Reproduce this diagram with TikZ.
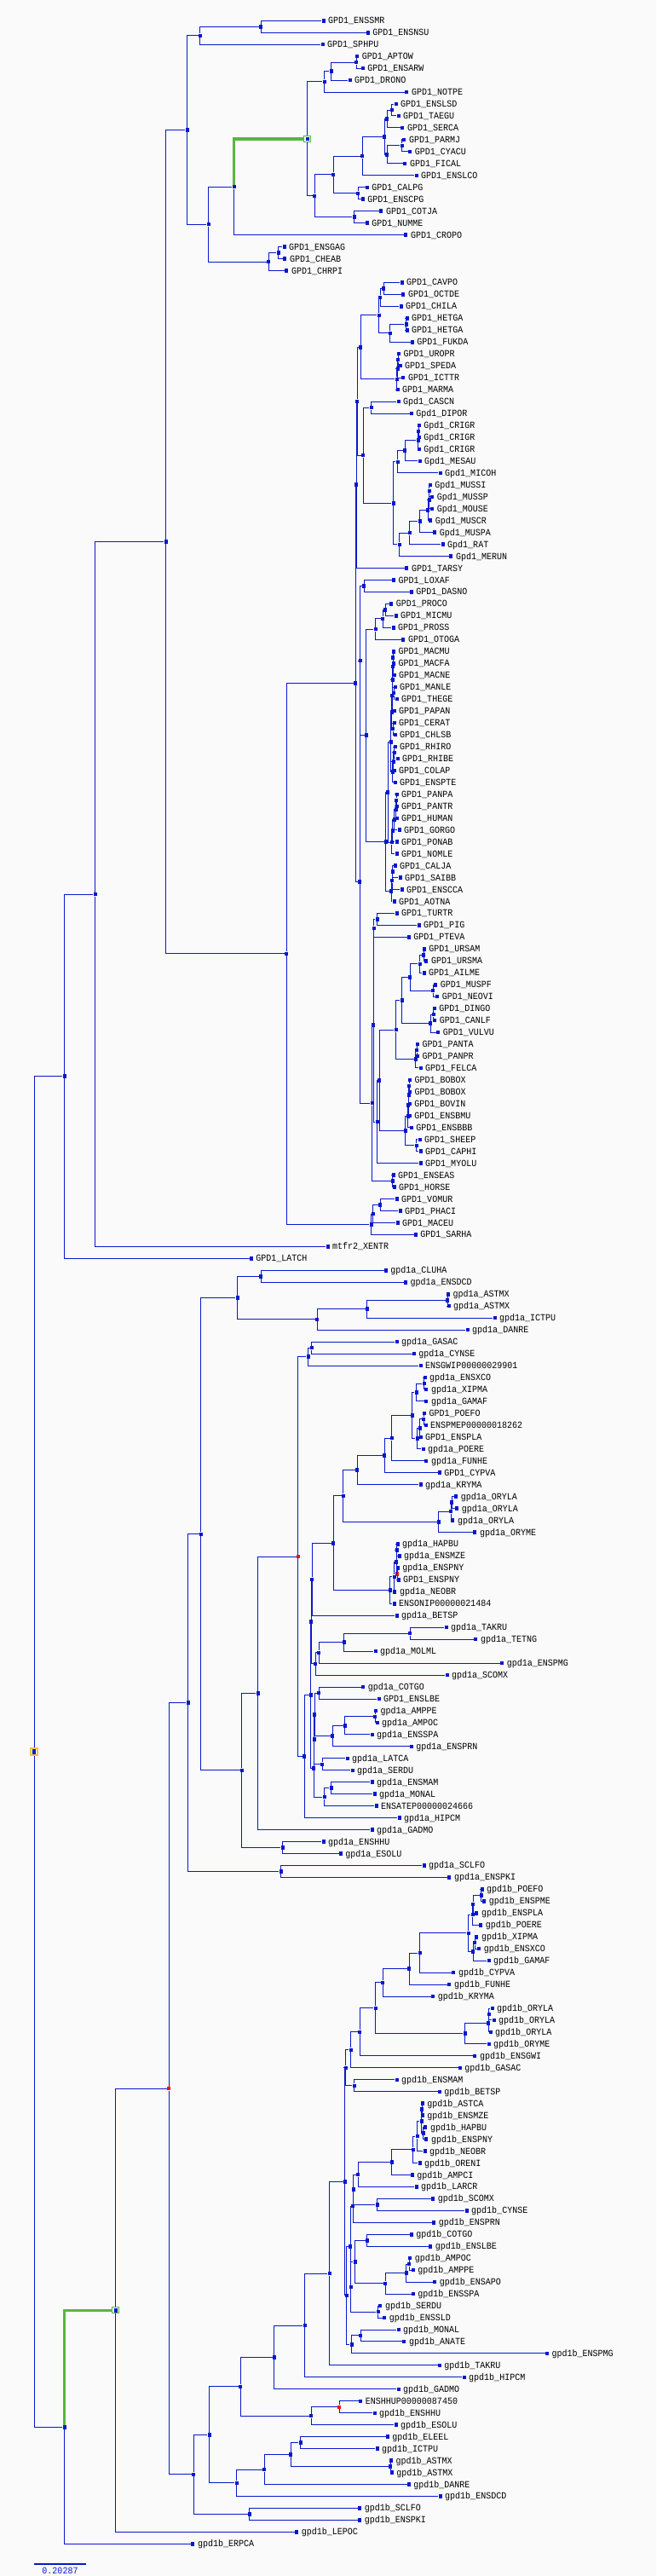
\documentclass[tikz,border=0pt]{standalone}
\usepackage{fontspec}
\usepackage{tikz}
\newfontfamily\treefont[FakeStretch=0.91]{Liberation Mono}
\newcommand{\leaffont}{\treefont\fontsize{11}{12}\selectfont}
\definecolor{treeblue}{RGB}{8,24,204}
\definecolor{treegreen}{RGB}{88,182,64}
\definecolor{treered}{RGB}{250,10,10}
\definecolor{treeyellow}{RGB}{236,196,64}
\definecolor{bgcolor}{RGB}{250,250,250}

\begin{document}
\begin{tikzpicture}[x=1pt, y=-13.962pt,
    LeafStyle/.style={rectangle, fill=treeblue, inner sep=0pt, minimum width=4pt, minimum height=4.5pt},
    NodeStyle/.style={LeafStyle},
    RedStyle/.style={LeafStyle, fill=treered},
    SelStyle/.style={LeafStyle, fill=bgcolor, draw=treegreen, line width=.8pt, minimum width=8.5pt, minimum height=7pt,
        path picture={\fill[treeblue] ([xshift=-2pt,yshift=-2.25pt]path picture bounding box.center) rectangle ([xshift=2pt,yshift=2.25pt]path picture bounding box.center);}},
    RootStyle/.style={LeafStyle, fill=bgcolor, draw=treeyellow, line width=1.8pt, minimum width=8pt, minimum height=8.5pt,
        path picture={\fill[treeblue] ([xshift=-2pt,yshift=-3pt]path picture bounding box.center) rectangle ([xshift=2pt,yshift=3pt]path picture bounding box.center);}},
    every label/.style={inner sep=0pt, font=\leaffont, text height=7pt, text depth=0pt},
    label distance=3.2pt,
    every edge/.style={draw=treeblue, line width=1pt, to path={(\tikztostart) |- (\tikztotarget)}},
    HiStyle/.style={draw=treegreen, line width=3.5pt}]

\path[fill=bgcolor, use as bounding box] (0,-0.7405) rectangle (770,215.70);

% leaves
\node[LeafStyle,label=right:GPD1\_ENSSMR] (L1) at (379.6,1) {};
\node[LeafStyle,label=right:GPD1\_ENSNSU] (L2) at (431.7,2) {};
\node[LeafStyle,label=right:GPD1\_SPHPU] (L3) at (378.6,3) {};
\node[LeafStyle,label=right:GPD1\_APTOW] (L4) at (419.2,4) {};
\node[LeafStyle,label=right:GPD1\_ENSARW] (L5) at (425.8,5) {};
\node[LeafStyle,label=right:GPD1\_DRONO] (L6) at (410.6,6) {};
\node[LeafStyle,label=right:GPD1\_NOTPE] (L7) at (477.4,7) {};
\node[LeafStyle,label=right:GPD1\_ENSLSD] (L8) at (464.6,8) {};
\node[LeafStyle,label=right:GPD1\_TAEGU] (L9) at (467.5,9) {};
\node[LeafStyle,label=right:GPD1\_SERCA] (L10) at (472.4,10) {};
\node[LeafStyle,label=right:GPD1\_PARMJ] (L11) at (474.4,11) {};
\node[LeafStyle,label=right:GPD1\_CYACU] (L12) at (481.3,12) {};
\node[LeafStyle,label=right:GPD1\_FICAL] (L13) at (475.4,13) {};
\node[LeafStyle,label=right:GPD1\_ENSLCO] (L14) at (488.6,14) {};
\node[LeafStyle,label=right:GPD1\_CALPG] (L15) at (430.7,15) {};
\node[LeafStyle,label=right:GPD1\_ENSCPG] (L16) at (425.8,16) {};
\node[LeafStyle,label=right:GPD1\_COTJA] (L17) at (447.4,17) {};
\node[LeafStyle,label=right:GPD1\_NUMME] (L18) at (430.7,18) {};
\node[LeafStyle,label=right:GPD1\_CROPO] (L19) at (476.4,19) {};
\node[LeafStyle,label=right:GPD1\_ENSGAG] (L20) at (333.5,20) {};
\node[LeafStyle,label=right:GPD1\_CHEAB] (L21) at (334.4,21) {};
\node[LeafStyle,label=right:GPD1\_CHRPI] (L22) at (336.4,22) {};
\node[LeafStyle,label=right:GPD1\_CAVPO] (L23) at (471.5,23) {};
\node[LeafStyle,label=right:GPD1\_OCTDE] (L24) at (473.4,24) {};
\node[LeafStyle,label=right:GPD1\_CHILA] (L25) at (470.5,25) {};
\node[LeafStyle,label=right:GPD1\_HETGA] (L26) at (477.6,26) {};
\node[LeafStyle,label=right:GPD1\_HETGA] (L27) at (477.6,27) {};
\node[LeafStyle,label=right:GPD1\_FUKDA] (L28) at (483.7,28) {};
\node[LeafStyle,label=right:GPD1\_UROPR] (L29) at (468.0,29) {};
\node[LeafStyle,label=right:GPD1\_SPEDA] (L30) at (469.5,30) {};
\node[LeafStyle,label=right:GPD1\_ICTTR] (L31) at (473.4,31) {};
\node[LeafStyle,label=right:GPD1\_MARMA] (L32) at (466.5,32) {};
\node[LeafStyle,label=right:Gpd1\_CASCN] (L33) at (467.5,33) {};
\node[LeafStyle,label=right:Gpd1\_DIPOR] (L34) at (482.8,34) {};
\node[LeafStyle,label=right:Gpd1\_CRIGR] (L35) at (491.8,35) {};
\node[LeafStyle,label=right:Gpd1\_CRIGR] (L36) at (491.8,36) {};
\node[LeafStyle,label=right:Gpd1\_CRIGR] (L37) at (491.8,37) {};
\node[LeafStyle,label=right:Gpd1\_MESAU] (L38) at (492.6,38) {};
\node[LeafStyle,label=right:Gpd1\_MICOH] (L39) at (516.6,39) {};
\node[LeafStyle,label=right:Gpd1\_MUSSI] (L40) at (504.7,40) {};
\node[LeafStyle,label=right:Gpd1\_MUSSP] (L41) at (507.3,41) {};
\node[LeafStyle,label=right:Gpd1\_MOUSE] (L42) at (507.3,42) {};
\node[LeafStyle,label=right:Gpd1\_MUSCR] (L43) at (505.3,43) {};
\node[LeafStyle,label=right:Gpd1\_MUSPA] (L44) at (510.3,44) {};
\node[LeafStyle,label=right:Gpd1\_RAT] (L45) at (519.6,45) {};
\node[LeafStyle,label=right:Gpd1\_MERUN] (L46) at (529.4,46) {};
\node[LeafStyle,label=right:GPD1\_TARSY] (L47) at (477.4,47) {};
\node[LeafStyle,label=right:GPD1\_LOXAF] (L48) at (462.1,48) {};
\node[LeafStyle,label=right:GPD1\_DASNO] (L49) at (482.8,49) {};
\node[LeafStyle,label=right:GPD1\_PROCO] (L50) at (459.2,50) {};
\node[LeafStyle,label=right:GPD1\_MICMU] (L51) at (464.6,51) {};
\node[LeafStyle,label=right:GPD1\_PROSS] (L52) at (461.6,52) {};
\node[LeafStyle,label=right:GPD1\_OTOGA] (L53) at (473.4,53) {};
\node[LeafStyle,label=right:GPD1\_MACMU] (L54) at (462.0,54) {};
\node[LeafStyle,label=right:GPD1\_MACFA] (L55) at (462.0,55) {};
\node[LeafStyle,label=right:GPD1\_MACNE] (L56) at (462.6,56) {};
\node[LeafStyle,label=right:GPD1\_MANLE] (L57) at (463.6,57) {};
\node[LeafStyle,label=right:GPD1\_THEGE] (L58) at (465.6,58) {};
\node[LeafStyle,label=right:GPD1\_PAPAN] (L59) at (462.6,59) {};
\node[LeafStyle,label=right:GPD1\_CERAT] (L60) at (462.6,60) {};
\node[LeafStyle,label=right:GPD1\_CHLSB] (L61) at (463.6,61) {};
\node[LeafStyle,label=right:GPD1\_RHIRO] (L62) at (463.6,62) {};
\node[LeafStyle,label=right:GPD1\_RHIBE] (L63) at (466.5,63) {};
\node[LeafStyle,label=right:GPD1\_COLAP] (L64) at (462.6,64) {};
\node[LeafStyle,label=right:GPD1\_ENSPTE] (L65) at (463.6,65) {};
\node[LeafStyle,label=right:GPD1\_PANPA] (L66) at (465.6,66) {};
\node[LeafStyle,label=right:GPD1\_PANTR] (L67) at (465.6,67) {};
\node[LeafStyle,label=right:GPD1\_HUMAN] (L68) at (465.6,68) {};
\node[LeafStyle,label=right:GPD1\_GORGO] (L69) at (468.5,69) {};
\node[LeafStyle,label=right:GPD1\_PONAB] (L70) at (465.6,70) {};
\node[LeafStyle,label=right:GPD1\_NOMLE] (L71) at (465.6,71) {};
\node[LeafStyle,label=right:GPD1\_CALJA] (L72) at (463.6,72) {};
\node[LeafStyle,label=right:GPD1\_SAIBB] (L73) at (469.5,73) {};
\node[LeafStyle,label=right:GPD1\_ENSCCA] (L74) at (471.5,74) {};
\node[LeafStyle,label=right:GPD1\_AOTNA] (L75) at (462.6,75) {};
\node[LeafStyle,label=right:GPD1\_TURTR] (L76) at (465.6,76) {};
\node[LeafStyle,label=right:GPD1\_PIG] (L77) at (491.6,77) {};
\node[LeafStyle,label=right:GPD1\_PTEVA] (L78) at (479.8,78) {};
\node[LeafStyle,label=right:GPD1\_URSAM] (L79) at (497.8,79) {};
\node[LeafStyle,label=right:GPD1\_URSMA] (L80) at (500.4,80) {};
\node[LeafStyle,label=right:GPD1\_AILME] (L81) at (497.5,81) {};
\node[LeafStyle,label=right:GPD1\_MUSPF] (L82) at (511.2,82) {};
\node[LeafStyle,label=right:GPD1\_NEOVI] (L83) at (513.2,83) {};
\node[LeafStyle,label=right:GPD1\_DINGO] (L84) at (509.8,84) {};
\node[LeafStyle,label=right:GPD1\_CANLF] (L85) at (510.3,85) {};
\node[LeafStyle,label=right:GPD1\_VULVU] (L86) at (514.2,86) {};
\node[LeafStyle,label=right:GPD1\_PANTA] (L87) at (490.0,87) {};
\node[LeafStyle,label=right:GPD1\_PANPR] (L88) at (490.0,88) {};
\node[LeafStyle,label=right:GPD1\_FELCA] (L89) at (493.6,89) {};
\node[LeafStyle,label=right:GPD1\_BOBOX] (L90) at (480.9,90) {};
\node[LeafStyle,label=right:GPD1\_BOBOX] (L91) at (480.9,91) {};
\node[LeafStyle,label=right:GPD1\_BOVIN] (L92) at (480.8,92) {};
\node[LeafStyle,label=right:GPD1\_ENSBMU] (L93) at (480.8,93) {};
\node[LeafStyle,label=right:GPD1\_ENSBBB] (L94) at (482.8,94) {};
\node[LeafStyle,label=right:GPD1\_SHEEP] (L95) at (492.6,95) {};
\node[LeafStyle,label=right:GPD1\_CAPHI] (L96) at (493.6,96) {};
\node[LeafStyle,label=right:GPD1\_MYOLU] (L97) at (493.6,97) {};
\node[LeafStyle,label=right:GPD1\_ENSEAS] (L98) at (461.6,98) {};
\node[LeafStyle,label=right:GPD1\_HORSE] (L99) at (462.6,99) {};
\node[LeafStyle,label=right:GPD1\_VOMUR] (L100) at (465.6,100) {};
\node[LeafStyle,label=right:GPD1\_PHACI] (L101) at (469.5,101) {};
\node[LeafStyle,label=right:GPD1\_MACEU] (L102) at (466.5,102) {};
\node[LeafStyle,label=right:GPD1\_SARHA] (L103) at (487.7,103) {};
\node[LeafStyle,label=right:mtfr2\_XENTR] (L104) at (384.5,104) {};
\node[LeafStyle,label=right:GPD1\_LATCH] (L105) at (294.7,105) {};
\node[LeafStyle,label=right:gpd1a\_CLUHA] (L106) at (452.8,106) {};
\node[LeafStyle,label=right:gpd1a\_ENSDCD] (L107) at (475.9,107) {};
\node[LeafStyle,label=right:gpd1a\_ASTMX] (L108) at (525.9,108) {};
\node[LeafStyle,label=right:gpd1a\_ASTMX] (L109) at (526.5,109) {};
\node[LeafStyle,label=right:gpd1a\_ICTPU] (L110) at (580.5,110) {};
\node[LeafStyle,label=right:gpd1a\_DANRE] (L111) at (548.6,111) {};
\node[LeafStyle,label=right:gpd1a\_GASAC] (L112) at (465.6,112) {};
\node[LeafStyle,label=right:gpd1a\_CYNSE] (L113) at (485.7,113) {};
\node[LeafStyle,label=right:ENSGWIP00000029901] (L114) at (493.6,114) {};
\node[LeafStyle,label=right:gpd1a\_ENSXCO] (L115) at (498.5,115) {};
\node[LeafStyle,label=right:gpd1a\_XIPMA] (L116) at (500.4,116) {};
\node[LeafStyle,label=right:gpd1a\_GAMAF] (L117) at (500.4,117) {};
\node[LeafStyle,label=right:GPD1\_POEFO] (L118) at (498.0,118) {};
\node[LeafStyle,label=right:ENSPMEP00000018262] (L119) at (499.5,119) {};
\node[LeafStyle,label=right:GPD1\_ENSPLA] (L120) at (493.6,120) {};
\node[LeafStyle,label=right:gpd1a\_POERE] (L121) at (496.5,121) {};
\node[LeafStyle,label=right:gpd1a\_FUNHE] (L122) at (500.4,122) {};
\node[LeafStyle,label=right:GPD1\_CYPVA] (L123) at (515.7,123) {};
\node[LeafStyle,label=right:gpd1a\_KRYMA] (L124) at (493.6,124) {};
\node[LeafStyle,label=right:gpd1a\_ORYLA] (L125) at (535.3,125) {};
\node[LeafStyle,label=right:gpd1a\_ORYLA] (L126) at (536.3,126) {};
\node[LeafStyle,label=right:gpd1a\_ORYLA] (L127) at (531.4,127) {};
\node[LeafStyle,label=right:gpd1a\_ORYME] (L128) at (557.4,128) {};
\node[LeafStyle,label=right:gpd1a\_HAPBU] (L129) at (466.5,129) {};
\node[LeafStyle,label=right:gpd1a\_ENSMZE] (L130) at (468.5,130) {};
\node[LeafStyle,label=right:gpd1a\_ENSPNY] (L131) at (466.8,131) {};
\node[LeafStyle,label=right:GPD1\_ENSPNY] (L132) at (467.5,132) {};
\node[LeafStyle,label=right:gpd1a\_NEOBR] (L133) at (463.4,133) {};
\node[LeafStyle,label=right:ENSONIP00000021484] (L134) at (462.6,134) {};
\node[LeafStyle,label=right:gpd1a\_BETSP] (L135) at (465.6,135) {};
\node[LeafStyle,label=right:gpd1a\_TAKRU] (L136) at (523.5,136) {};
\node[LeafStyle,label=right:gpd1a\_TETNG] (L137) at (558.4,137) {};
\node[LeafStyle,label=right:gpd1a\_MOLML] (L138) at (440.5,138) {};
\node[LeafStyle,label=right:gpd1a\_ENSPMG] (L139) at (589.3,139) {};
\node[LeafStyle,label=right:gpd1a\_SCOMX] (L140) at (524.5,140) {};
\node[LeafStyle,label=right:gpd1a\_COTGO] (L141) at (426.3,141) {};
\node[LeafStyle,label=right:GPD1\_ENSLBE] (L142) at (444.5,142) {};
\node[LeafStyle,label=right:gpd1a\_AMPPE] (L143) at (440.9,143) {};
\node[LeafStyle,label=right:gpd1a\_AMPOC] (L144) at (442.5,144) {};
\node[LeafStyle,label=right:gpd1a\_ENSSPA] (L145) at (436.6,145) {};
\node[LeafStyle,label=right:gpd1a\_ENSPRN] (L146) at (482.8,146) {};
\node[LeafStyle,label=right:gpd1a\_LATCA] (L147) at (407.6,147) {};
\node[LeafStyle,label=right:gpd1a\_SERDU] (L148) at (413.5,148) {};
\node[LeafStyle,label=right:gpd1a\_ENSMAM] (L149) at (436.6,149) {};
\node[LeafStyle,label=right:gpd1a\_MONAL] (L150) at (439.5,150) {};
\node[LeafStyle,label=right:ENSATEP00000024666] (L151) at (441.5,151) {};
\node[LeafStyle,label=right:gpd1a\_HIPCM] (L152) at (468.5,152) {};
\node[LeafStyle,label=right:gpd1a\_GADMO] (L153) at (436.6,153) {};
\node[LeafStyle,label=right:gpd1a\_ENSHHU] (L154) at (379.6,154) {};
\node[LeafStyle,label=right:gpd1a\_ESOLU] (L155) at (399.8,155) {};
\node[LeafStyle,label=right:gpd1a\_SCLFO] (L156) at (497.5,156) {};
\node[LeafStyle,label=right:gpd1a\_ENSPKI] (L157) at (527.4,157) {};
\node[LeafStyle,label=right:gpd1b\_POEFO] (L158) at (565.6,158) {};
\node[LeafStyle,label=right:gpd1b\_ENSPME] (L159) at (568.2,159) {};
\node[LeafStyle,label=right:gpd1b\_ENSPLA] (L160) at (559.4,160) {};
\node[LeafStyle,label=right:gpd1b\_POERE] (L161) at (564.3,161) {};
\node[LeafStyle,label=right:gpd1b\_XIPMA] (L162) at (559.4,162) {};
\node[LeafStyle,label=right:gpd1b\_ENSXCO] (L163) at (562.3,163) {};
\node[LeafStyle,label=right:gpd1b\_GAMAF] (L164) at (573.6,164) {};
\node[LeafStyle,label=right:gpd1b\_CYPVA] (L165) at (532.4,165) {};
\node[LeafStyle,label=right:gpd1b\_FUNHE] (L166) at (527.4,166) {};
\node[LeafStyle,label=right:gpd1b\_KRYMA] (L167) at (508.3,167) {};
\node[LeafStyle,label=right:gpd1b\_ORYLA] (L168) at (577.5,168) {};
\node[LeafStyle,label=right:gpd1b\_ORYLA] (L169) at (579.5,169) {};
\node[LeafStyle,label=right:gpd1b\_ORYLA] (L170) at (575.6,170) {};
\node[LeafStyle,label=right:gpd1b\_ORYME] (L171) at (573.6,171) {};
\node[LeafStyle,label=right:gpd1b\_ENSGWI] (L172) at (557.4,172) {};
\node[LeafStyle,label=right:gpd1b\_GASAC] (L173) at (539.7,173) {};
\node[LeafStyle,label=right:gpd1b\_ENSMAM] (L174) at (465.6,174) {};
\node[LeafStyle,label=right:gpd1b\_BETSP] (L175) at (515.7,175) {};
\node[LeafStyle,label=right:gpd1b\_ASTCA] (L176) at (495.8,176) {};
\node[LeafStyle,label=right:gpd1b\_ENSMZE] (L177) at (495.8,177) {};
\node[LeafStyle,label=right:gpd1b\_HAPBU] (L178) at (499.4,178) {};
\node[LeafStyle,label=right:gpd1b\_ENSPNY] (L179) at (500.4,179) {};
\node[LeafStyle,label=right:gpd1b\_NEOBR] (L180) at (498.5,180) {};
\node[LeafStyle,label=right:gpd1b\_ORENI] (L181) at (492.6,181) {};
\node[LeafStyle,label=right:gpd1b\_AMPCI] (L182) at (483.7,182) {};
\node[LeafStyle,label=right:gpd1b\_LARCR] (L183) at (488.6,183) {};
\node[LeafStyle,label=right:gpd1b\_SCOMX] (L184) at (508.3,184) {};
\node[LeafStyle,label=right:gpd1b\_CYNSE] (L185) at (547.6,185) {};
\node[LeafStyle,label=right:gpd1b\_ENSPRN] (L186) at (509.3,186) {};
\node[LeafStyle,label=right:gpd1b\_COTGO] (L187) at (482.8,187) {};
\node[LeafStyle,label=right:gpd1b\_ENSLBE] (L188) at (505.3,188) {};
\node[LeafStyle,label=right:gpd1b\_AMPOC] (L189) at (481.3,189) {};
\node[LeafStyle,label=right:gpd1b\_AMPPE] (L190) at (484.7,190) {};
\node[LeafStyle,label=right:gpd1b\_ENSAPO] (L191) at (510.3,191) {};
\node[LeafStyle,label=right:gpd1b\_ENSSPA] (L192) at (484.7,192) {};
\node[LeafStyle,label=right:gpd1b\_SERDU] (L193) at (446.4,193) {};
\node[LeafStyle,label=right:gpd1b\_ENSSLD] (L194) at (451.3,194) {};
\node[LeafStyle,label=right:gpd1b\_MONAL] (L195) at (467.5,195) {};
\node[LeafStyle,label=right:gpd1b\_ANATE] (L196) at (474.4,196) {};
\node[LeafStyle,label=right:gpd1b\_ENSPMG] (L197) at (641.9,197) {};
\node[LeafStyle,label=right:gpd1b\_TAKRU] (L198) at (515.7,198) {};
\node[LeafStyle,label=right:gpd1b\_HIPCM] (L199) at (544.6,199) {};
\node[LeafStyle,label=right:gpd1b\_GADMO] (L200) at (467.5,200) {};
\node[LeafStyle,label=right:ENSHHUP00000087450] (L201) at (423.3,201) {};
\node[LeafStyle,label=right:gpd1b\_ENSHHU] (L202) at (439.5,202) {};
\node[LeafStyle,label=right:gpd1b\_ESOLU] (L203) at (464.6,203) {};
\node[LeafStyle,label=right:gpd1b\_ELEEL] (L204) at (454.8,204) {};
\node[LeafStyle,label=right:gpd1b\_ICTPU] (L205) at (442.5,205) {};
\node[LeafStyle,label=right:gpd1b\_ASTMX] (L206) at (459.0,206) {};
\node[LeafStyle,label=right:gpd1b\_ASTMX] (L207) at (459.7,207) {};
\node[LeafStyle,label=right:gpd1b\_DANRE] (L208) at (479.8,208) {};
\node[LeafStyle,label=right:gpd1b\_ENSDCD] (L209) at (516.6,209) {};
\node[LeafStyle,label=right:gpd1b\_SCLFO] (L210) at (422.3,210) {};
\node[LeafStyle,label=right:gpd1b\_ENSPKI] (L211) at (422.3,211) {};
\node[LeafStyle,label=right:gpd1b\_LEPOC] (L212) at (348.2,212) {};
\node[LeafStyle,label=right:gpd1b\_ERPCA] (L213) at (226.4,213) {};

% birds
\node[NodeStyle] (av1) at (306.4,1.5) {} edge (L1) edge (L2);
\node[NodeStyle] (av2) at (234.7,2.25) {} edge (av1) edge (L3);
\node[NodeStyle] (av3) at (418.4,4.5) {} edge (L4) edge (L5);
\node[NodeStyle] (av4) at (388.5,5.25) {} edge (av3) edge (L6);
\node[NodeStyle] (av5) at (380.6,6.125) {} edge (av4) edge (L7);
\node[NodeStyle] (av6) at (459.7,8.5) {} edge (L8) edge (L9);
\node[NodeStyle] (av7) at (454.3,9.25) {} edge (av6) edge (L10);
\node[NodeStyle] (av8) at (471.5,11.5) {} edge (L11) edge (L12);
\node[NodeStyle] (av9) at (454.3,12.25) {} edge (av8) edge (L13);
\node[NodeStyle] (av10) at (451.3,10.75) {} edge (av7) edge (av9);
\node[NodeStyle] (av11) at (425.3,12.375) {} edge (av10) edge (L14);
\node[NodeStyle] (av12) at (420.4,15.5) {} edge (L15) edge (L16);
\node[NodeStyle] (av13) at (391.4,13.9375) {} edge (av11) edge (av12);
\node[NodeStyle] (av14) at (415.5,17.5) {} edge (L17) edge (L18);
\node[NodeStyle] (av15) at (369.3,15.7188) {} edge (av13) edge (av14);
\node[SelStyle] (av16) at (360.5,10.9219) {} edge (av5) edge (av15);
\node[NodeStyle] (av17) at (274.5,14.9609) {} edge[HiStyle] (av16) edge (L19);
\node[NodeStyle] (av18) at (326.6,20.5) {} edge (L20) edge (L21);
\node[NodeStyle] (av19) at (315.3,21.25) {} edge (av18) edge (L22);
\node[NodeStyle] (av20) at (244.6,18.1055) {} edge (av17) edge (av19);
\node[NodeStyle] (av21) at (219.5,10.1777) {} edge (av2) edge (av20);

% rodents
\node[NodeStyle] (ro1) at (450.3,23.5) {} edge (L23) edge (L24);
\node[NodeStyle] (ro2) at (446.4,24.25) {} edge (ro1) edge (L25);
\node[NodeStyle] (ro3) at (476.6,26.5) {} edge (L26) edge (L27);
\node[NodeStyle] (ro4) at (457.7,27.25) {} edge (ro3) edge (L28);
\node[NodeStyle] (ro5) at (444.5,25.75) {} edge (ro2) edge (ro4);
\node[NodeStyle] (ro6) at (467.2,29.5) {} edge (L29) edge (L30);
\node[NodeStyle] (ro7) at (466.6,30.25) {} edge (ro6) edge (L31);
\node[NodeStyle] (ro8) at (465.6,31.125) {} edge (ro7) edge (L32);
\node[NodeStyle] (ro9) at (423.3,28.4375) {} edge (ro5) edge (ro8);
\node[NodeStyle] (ro10) at (435.6,33.5) {} edge (L33) edge (L34);
\node[NodeStyle] (ro11) at (491.0,35.5) {} edge (L35) edge (L36);
\node[NodeStyle] (ro12) at (490.6,36.25) {} edge (ro11) edge (L37);
\node[NodeStyle] (ro13) at (475.4,37.125) {} edge (ro12) edge (L38);
\node[NodeStyle] (ro14) at (466.6,38.0625) {} edge (ro13) edge (L39);
\node[NodeStyle] (ro15) at (503.9,40.5) {} edge (L40) edge (L41);
\node[NodeStyle] (ro16) at (503.5,41.25) {} edge (ro15) edge (L42);
\node[NodeStyle] (ro17) at (502.4,42.125) {} edge (ro16) edge (L43);
\node[NodeStyle] (ro18) at (492.6,43.0625) {} edge (ro17) edge (L44);
\node[NodeStyle] (ro19) at (480.8,44.0313) {} edge (ro18) edge (L45);
\node[NodeStyle] (ro20) at (468.5,45.0156) {} edge (ro19) edge (L46);
\node[NodeStyle] (ro21) at (461.6,41.5391) {} edge (ro14) edge (ro20);
\node[NodeStyle] (ro22) at (426.3,37.5195) {} edge (ro10) edge (ro21);
\node[NodeStyle] (ro23) at (419.4,32.9785) {} edge (ro9) edge (ro22);
\node[NodeStyle] (ro24) at (418.4,39.9893) {} edge (ro23) edge (L47);

% primates and others
\node[NodeStyle] (mm1) at (427.3,48.5) {} edge (L48) edge (L49);
\node[NodeStyle] (pr1) at (452.3,50.5) {} edge (L50) edge (L51);
\node[NodeStyle] (pr2) at (449.4,51.25) {} edge (pr1) edge (L52);
\node[NodeStyle] (pr3) at (440.5,52.125) {} edge (pr2) edge (L53);
\node[NodeStyle] (pr4) at (461.4,54.5) {} edge (L54) edge (L55);
\node[NodeStyle] (pr5) at (461.0,55.25) {} edge (pr4) edge (L56);
\node[NodeStyle] (pr6) at (462.0,57.5) {} edge (L57) edge (L58);
\node[NodeStyle] (pr7) at (460.6,56.375) {} edge (pr5) edge (pr6);
\node[NodeStyle] (pr8) at (460.2,57.6875) {} edge (pr7) edge (L59);
\node[NodeStyle] (pr9) at (461.0,60.5) {} edge (L60) edge (L61);
\node[NodeStyle] (pr10) at (459.7,59.0938) {} edge (pr8) edge (pr9);
\node[NodeStyle] (pr11) at (462.6,62.5) {} edge (L62) edge (L63);
\node[NodeStyle] (pr12) at (461.6,63.25) {} edge (pr11) edge (L64);
\node[NodeStyle] (pr13) at (460.6,64.125) {} edge (pr12) edge (L65);
\node[NodeStyle] (pr14) at (458.7,61.6094) {} edge (pr10) edge (pr13);
\node[NodeStyle] (pr15) at (465.0,66.5) {} edge (L66) edge (L67);
\node[NodeStyle] (pr16) at (464.6,67.25) {} edge (pr15) edge (L68);
\node[NodeStyle] (pr17) at (462.6,68.125) {} edge (pr16) edge (L69);
\node[NodeStyle] (pr18) at (460.7,69.0625) {} edge (pr17) edge (L70);
\node[NodeStyle] (pr19) at (459.7,70.0313) {} edge (pr18) edge (L71);
\node[NodeStyle] (pr20) at (455.3,65.8203) {} edge (pr14) edge (pr19);
\node[NodeStyle] (pr21) at (460.7,72.5) {} edge (L72) edge (L73);
\node[NodeStyle] (pr22) at (460.0,73.25) {} edge (pr21) edge (L74);
\node[NodeStyle] (pr23) at (459.2,74.125) {} edge (pr22) edge (L75);
\node[NodeStyle] (pr24) at (452.8,69.9727) {} edge (pr20) edge (pr23);
\node[NodeStyle] (pr25) at (429.7,61.0488) {} edge (pr3) edge (pr24);
\node[NodeStyle] (mm2) at (422.6,54.7744) {} edge (mm1) edge (pr25);

% laurasiatheria
\node[NodeStyle] (la1) at (442.5,76.5) {} edge (L76) edge (L77);
\node[NodeStyle] (la2) at (438.8,77.25) {} edge (la1) edge (L78);
\node[NodeStyle] (la3) at (497.0,79.5) {} edge (L79) edge (L80);
\node[NodeStyle] (la4) at (492.6,80.25) {} edge (la3) edge (L81);
\node[NodeStyle] (la5) at (508.3,82.5) {} edge (L82) edge (L83);
\node[NodeStyle] (la6) at (481.3,81.375) {} edge (la4) edge (la5);
\node[NodeStyle] (la7) at (508.8,84.5) {} edge (L84) edge (L85);
\node[NodeStyle] (la8) at (505.3,85.25) {} edge (la7) edge (L86);
\node[NodeStyle] (la9) at (471.5,83.3125) {} edge (la6) edge (la8);
\node[NodeStyle] (la10) at (489.0,87.5) {} edge (L87) edge (L88);
\node[NodeStyle] (la11) at (487.7,88.25) {} edge (la10) edge (L89);
\node[NodeStyle] (la12) at (464.6,85.7813) {} edge (la9) edge (la11);
\node[NodeStyle] (la13) at (480.2,90.5) {} edge (L90) edge (L91);
\node[NodeStyle] (la14) at (479.8,91.25) {} edge (la13) edge (L92);
\node[NodeStyle] (la15) at (479.3,92.125) {} edge (la14) edge (L93);
\node[NodeStyle] (la16) at (478.8,93.0625) {} edge (la15) edge (L94);
\node[NodeStyle] (la17) at (488.6,95.5) {} edge (L95) edge (L96);
\node[NodeStyle] (la18) at (475.9,94.2813) {} edge (la16) edge (la17);
\node[NodeStyle] (la19) at (445.4,90.0313) {} edge (la12) edge (la18);
\node[NodeStyle] (la20) at (442.5,93.5156) {} edge (la19) edge (L97);
\node[NodeStyle] (la21) at (438.0,85.3828) {} edge (la2) edge (la20);
\node[NodeStyle] (la22) at (460.7,98.5) {} edge (L98) edge (L99);
\node[NodeStyle] (la23) at (436.6,91.9414) {} edge (la21) edge (la22);
\node[NodeStyle] (mm3) at (422.0,73.3579) {} edge (mm2) edge (la23);
\node[NodeStyle] (mm4) at (417.4,56.6736) {} edge (ro24) edge (mm3);

% marsupials, tetrapods
\node[NodeStyle] (ma1) at (446.4,100.5) {} edge (L100) edge (L101);
\node[NodeStyle] (ma2) at (437.6,101.25) {} edge (ma1) edge (L102);
\node[NodeStyle] (ma3) at (435.6,102.125) {} edge (ma2) edge (L103);
\node[NodeStyle] (tt1) at (336.4,79.3993) {} edge (mm4) edge (ma3);
\node[NodeStyle] (tt2) at (194.5,44.7885) {} edge (av21) edge (tt1);
\node[NodeStyle] (tt3) at (111.5,74.3943) {} edge (tt2) edge (L104);
\node[NodeStyle] (tt4) at (75.6,89.6971) {} edge (tt3) edge (L105);

% fish gpd1a
\node[NodeStyle] (fa1) at (306.4,106.5) {} edge (L106) edge (L107);
\node[NodeStyle] (fa2) at (525.0,108.5) {} edge (L108) edge (L109);
\node[NodeStyle] (fa3) at (430.7,109.25) {} edge (fa2) edge (L110);
\node[NodeStyle] (fa4) at (372.3,110.125) {} edge (fa3) edge (L111);
\node[NodeStyle] (fa5) at (278.5,108.3125) {} edge (fa1) edge (fa4);
\node[NodeStyle] (fa6) at (365.9,112.5) {} edge (L112) edge (L113);
\node[NodeStyle] (fa7) at (361.5,113.25) {} edge (fa6) edge (L114);
\node[NodeStyle] (fa8) at (497.5,115.5) {} edge (L115) edge (L116);
\node[NodeStyle] (fa9) at (488.6,116.25) {} edge (fa8) edge (L117);
\node[NodeStyle] (fa10) at (497.0,118.5) {} edge (L118) edge (L119);
\node[NodeStyle] (fa11) at (492.6,119.25) {} edge (fa10) edge (L120);
\node[NodeStyle] (fa12) at (489.6,120.125) {} edge (fa11) edge (L121);
\node[NodeStyle] (fa13) at (483.7,118.1875) {} edge (fa9) edge (fa12);
\node[NodeStyle] (fa14) at (459.7,120.0938) {} edge (fa13) edge (L122);
\node[NodeStyle] (fa15) at (451.3,121.5469) {} edge (fa14) edge (L123);
\node[NodeStyle] (fa16) at (419.4,122.7734) {} edge (fa15) edge (L124);
\node[NodeStyle] (fa17) at (530.4,125.5) {} edge (L125) edge (L126);
\node[NodeStyle] (fa18) at (529.4,126.25) {} edge (fa17) edge (L127);
\node[NodeStyle] (fa19) at (514.7,127.125) {} edge (fa18) edge (L128);
\node[NodeStyle] (fa20) at (402.7,124.9492) {} edge (fa16) edge (fa19);
\node[NodeStyle] (fa21) at (465.6,129.5) {} edge (L129) edge (L130);
\node[RedStyle] (fa22) at (466.0,131.5) {} edge (L131) edge (L132);
\node[NodeStyle] (fa23) at (465.0,130.5) {} edge (fa21) edge (fa22);
\node[NodeStyle] (fa24) at (462.6,131.75) {} edge (fa23) edge (L133);
\node[NodeStyle] (fa25) at (457.7,132.875) {} edge (fa24) edge (L134);
\node[NodeStyle] (fa26) at (391.4,128.9121) {} edge (fa20) edge (fa25);
\node[NodeStyle] (fa27) at (366.0,131.9561) {} edge (fa26) edge (L135);
\node[NodeStyle] (fa28) at (481.3,136.5) {} edge (L136) edge (L137);
\node[NodeStyle] (fa29) at (403.7,137.25) {} edge (fa28) edge (L138);
\node[NodeStyle] (fa30) at (374.2,138.125) {} edge (fa29) edge (L139);
\node[NodeStyle] (fa31) at (370.3,139.0625) {} edge (fa30) edge (L140);
\node[NodeStyle] (fa32) at (365.4,135.5093) {} edge (fa27) edge (fa31);
\node[NodeStyle] (fa33) at (374.2,141.5) {} edge (L141) edge (L142);
\node[NodeStyle] (fa34) at (440.0,143.5) {} edge (L143) edge (L144);
\node[NodeStyle] (fa35) at (404.7,144.25) {} edge (fa34) edge (L145);
\node[NodeStyle] (fa36) at (390.4,145.125) {} edge (fa35) edge (L146);
\node[NodeStyle] (fa37) at (369.3,143.3125) {} edge (fa33) edge (fa36);
\node[NodeStyle] (fa38) at (378.1,147.5) {} edge (L147) edge (L148);
\node[NodeStyle] (fa39) at (368.8,145.4063) {} edge (fa37) edge (fa38);
\node[NodeStyle] (fa40) at (388.5,149.5) {} edge (L149) edge (L150);
\node[NodeStyle] (fa41) at (380.6,150.25) {} edge (fa40) edge (L151);
\node[NodeStyle] (fa42) at (368.3,147.8281) {} edge (fa39) edge (fa41);
\node[NodeStyle] (fa43) at (364.9,141.6687) {} edge (fa32) edge (fa42);
\node[NodeStyle] (fa44) at (357.0,146.8344) {} edge (fa43) edge (L152);
\node[RedStyle] (fa45) at (349.7,130.0422) {} edge (fa7) edge (fa44);
\node[NodeStyle] (fa46) at (302.5,141.5211) {} edge (fa45) edge (L153);
\node[NodeStyle] (fa47) at (331.5,154.5) {} edge (L154) edge (L155);
\node[NodeStyle] (fa48) at (283.9,148.0106) {} edge (fa46) edge (fa47);
\node[NodeStyle] (fa49) at (235.7,128.1615) {} edge (fa5) edge (fa48);
\node[NodeStyle] (fa50) at (329.5,156.5) {} edge (L156) edge (L157);
\node[NodeStyle] (fa51) at (220.5,142.3308) {} edge (fa49) edge (fa50);

% fish gpd1b
\node[NodeStyle] (fb1) at (564.8,158.5) {} edge (L158) edge (L159);
\node[NodeStyle] (fb2) at (555.4,159.25) {} edge (fb1) edge (L160);
\node[NodeStyle] (fb3) at (554.5,160.125) {} edge (fb2) edge (L161);
\node[NodeStyle] (fb4) at (557.4,162.5) {} edge (L162) edge (L163);
\node[NodeStyle] (fb5) at (555.4,163.25) {} edge (fb4) edge (L164);
\node[NodeStyle] (fb6) at (549.5,161.6875) {} edge (fb3) edge (fb5);
\node[NodeStyle] (fb7) at (492.6,163.3438) {} edge (fb6) edge (L165);
\node[NodeStyle] (fb8) at (480.3,164.6719) {} edge (fb7) edge (L166);
\node[NodeStyle] (fb9) at (449.4,165.8359) {} edge (fb8) edge (L167);
\node[NodeStyle] (fb10) at (573.8,168.5) {} edge (L168) edge (L169);
\node[NodeStyle] (fb11) at (573.0,169.25) {} edge (fb10) edge (L170);
\node[NodeStyle] (fb12) at (545.6,170.125) {} edge (fb11) edge (L171);
\node[NodeStyle] (fb13) at (440.5,167.9805) {} edge (fb9) edge (fb12);
\node[NodeStyle] (fb14) at (422.3,169.9902) {} edge (fb13) edge (L172);
\node[NodeStyle] (fb15) at (411.5,171.4951) {} edge (fb14) edge (L173);
\node[NodeStyle] (fb16) at (415.5,174.5) {} edge (L174) edge (L175);
\node[NodeStyle] (fb17) at (405.6,172.9976) {} edge (fb15) edge (fb16);
\node[NodeStyle] (fb18) at (495.0,176.5) {} edge (L176) edge (L177);
\node[NodeStyle] (fb19) at (496.5,178.5) {} edge (L178) edge (L179);
\node[NodeStyle] (fb20) at (494.5,177.5) {} edge (fb18) edge (fb19);
\node[NodeStyle] (fb21) at (489.6,178.75) {} edge (fb20) edge (L180);
\node[NodeStyle] (fb22) at (484.7,179.875) {} edge (fb21) edge (L181);
\node[NodeStyle] (fb23) at (459.7,180.9375) {} edge (fb22) edge (L182);
\node[NodeStyle] (fb24) at (420.4,181.9688) {} edge (fb23) edge (L183);
\node[NodeStyle] (fb25) at (442.5,184.5) {} edge (L184) edge (L185);
\node[NodeStyle] (fb26) at (414.7,183.2344) {} edge (fb24) edge (fb25);
\node[NodeStyle] (fb27) at (414.0,184.6172) {} edge (fb26) edge (L186);
\node[NodeStyle] (fb28) at (430.7,187.5) {} edge (L187) edge (L188);
\node[NodeStyle] (fb29) at (480.3,189.5) {} edge (L189) edge (L190);
\node[NodeStyle] (fb30) at (476.9,190.25) {} edge (fb29) edge (L191);
\node[NodeStyle] (fb31) at (452.3,191.125) {} edge (fb30) edge (L192);
\node[NodeStyle] (fb32) at (416.5,189.3125) {} edge (fb28) edge (fb31);
\node[NodeStyle] (fb33) at (443.5,193.5) {} edge (L193) edge (L194);
\node[NodeStyle] (fb34) at (411.8,191.4063) {} edge (fb32) edge (fb33);
\node[NodeStyle] (fb35) at (411.0,188.0117) {} edge (fb27) edge (fb34);
\node[NodeStyle] (fb36) at (423.3,195.5) {} edge (L195) edge (L196);
\node[NodeStyle] (fb37) at (412.5,196.25) {} edge (fb36) edge (L197);
\node[NodeStyle] (fb38) at (406.6,192.1309) {} edge (fb35) edge (fb37);
\node[NodeStyle] (fb39) at (404.7,182.5642) {} edge (fb17) edge (fb38);
\node[NodeStyle] (fb40) at (386.5,190.2821) {} edge (fb39) edge (L198);
\node[NodeStyle] (fb41) at (357.5,194.6411) {} edge (fb40) edge (L199);
\node[NodeStyle] (fb42) at (321.7,197.3205) {} edge (fb41) edge (L200);
\node[RedStyle] (fb43) at (398.3,201.5) {} edge (L201) edge (L202);
\node[NodeStyle] (fb44) at (365.4,202.25) {} edge (fb43) edge (L203);
\node[NodeStyle] (fb45) at (282.4,199.7853) {} edge (fb42) edge (fb44);
\node[NodeStyle] (fb46) at (352.6,204.5) {} edge (L204) edge (L205);
\node[NodeStyle] (fb47) at (458.2,206.5) {} edge (L206) edge (L207);
\node[NodeStyle] (fb48) at (341.3,205.5) {} edge (fb46) edge (fb47);
\node[NodeStyle] (fb49) at (310.4,206.75) {} edge (fb48) edge (L208);
\node[NodeStyle] (fb50) at (277.5,207.875) {} edge (fb49) edge (L209);
\node[NodeStyle] (fb51) at (245.6,203.8301) {} edge (fb45) edge (fb50);
\node[NodeStyle] (fb52) at (292.7,210.5) {} edge (L210) edge (L211);
\node[NodeStyle] (fb53) at (227.4,207.1651) {} edge (fb51) edge (fb52);
\node[RedStyle] (fb54) at (198.4,174.7479) {} edge (fa51) edge (fb53);
\node[SelStyle] (fb55) at (135.5,193.374) {} edge (fb54) edge (L212);
\node[NodeStyle] (fb56) at (75.6,203.187) {} edge[HiStyle] (fb55) edge (L213);

% root
\node[RootStyle] (root) at (40.3,146.442) {} edge (tt4) edge (fb56);

% scale bar
\coordinate (sb1) at (40.3,214.68);
\coordinate (sb2) at (100.7,214.68);
\draw[treeblue, line width=2pt] (sb1) -- (sb2);
\node[inner sep=0pt, font=\leaffont, text=treeblue, text height=7pt, text depth=0pt] (sbl) at (70.5,215.3) {0.20287};
\end{tikzpicture}
\end{document}
